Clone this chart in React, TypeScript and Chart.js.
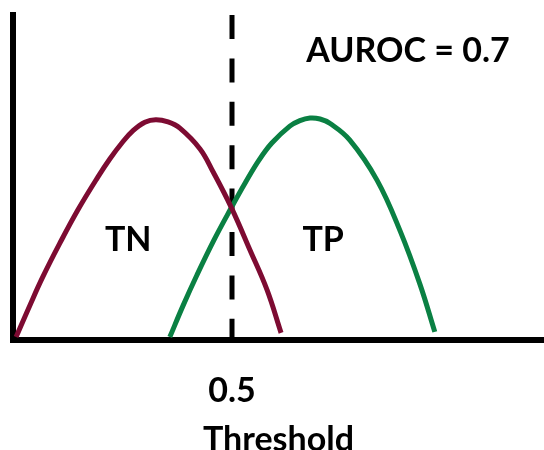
import React, { useEffect, useRef } from "react";
import { Chart, registerables } from "chart.js";

Chart.register(...registerables);

// Score axis (threshold units) and density values
const tnX = [0.007, 0.039, 0.068, 0.107, 0.148, 0.194, 0.221, 0.249, 0.274, 0.301, 0.326, 0.354, 0.381, 0.427, 0.457, 0.498, 0.541, 0.58, 0.612];
const tnY = [0.009, 0.108, 0.194, 0.298, 0.4, 0.502, 0.557, 0.607, 0.644, 0.67, 0.678, 0.671, 0.652, 0.588, 0.517, 0.409, 0.277, 0.154, 0.022];

const tpX = [0.358, 0.388, 0.42, 0.459, 0.498, 0.53, 0.562, 0.591, 0.632, 0.655, 0.678, 0.701, 0.724, 0.769, 0.831, 0.884, 0.929, 0.963];
const tpY = [0.009, 0.105, 0.2, 0.308, 0.406, 0.483, 0.554, 0.606, 0.658, 0.675, 0.683, 0.68, 0.666, 0.615, 0.492, 0.335, 0.172, 0.025];

const thresholdValue = 0.5;
const xTickValues = [0.5];
const xTitle = "Threshold";

const annotationTexts = ["TN", "TP", "AUROC = 0.7"];
const annotationX = [0.263, 0.708, 0.902];
const annotationY = [0.308, 0.308, 0.889];

const X_MAX = 1.2123;
const Y_MAX = 1;

const FONT = "Lato, 'Open Sans', sans-serif";

const textPlugin = {
  id: "annotTexts",
  afterDatasetsDraw(chart: any) {
    const { ctx, scales } = chart;
    ctx.save();
    ctx.fillStyle = "#000";
    ctx.font = `bold 34px ${FONT}`;
    ctx.textAlign = "center";
    ctx.textBaseline = "middle";
    annotationTexts.forEach((t, i) => {
      ctx.fillText(t, scales.x.getPixelForValue(annotationX[i]), scales.y.getPixelForValue(annotationY[i]));
    });
    ctx.restore();
  },
};

export default function App() {
  const ref = useRef<HTMLCanvasElement | null>(null);

  useEffect(() => {
    if (!ref.current) return;
    const toPts = (xs: number[], ys: number[]) => xs.map((x, i) => ({ x, y: ys[i] }));
    const chart = new Chart(ref.current, {
      type: "line",
      data: {
        datasets: [
          {
            label: "Negatives",
            data: toPts(tnX, tnY),
            borderColor: "#7D0B32",
            borderWidth: 5,
            pointRadius: 0,
            tension: 0.4,
            fill: false,
          },
          {
            label: "Positives",
            data: toPts(tpX, tpY),
            borderColor: "#0A8043",
            borderWidth: 5,
            pointRadius: 0,
            tension: 0.4,
            fill: false,
          },
          {
            label: "Threshold",
            data: [
              { x: thresholdValue, y: Y_MAX },
              { x: thresholdValue, y: 0 },
            ],
            borderColor: "#000",
            borderWidth: 5,
            borderDash: [24, 19.4],
            pointRadius: 0,
            fill: false,
          },
        ],
      },
      options: {
        responsive: false,
        animation: false,
        layout: { padding: { left: 13, top: 15, right: 0, bottom: 0 } },
        plugins: { legend: { display: false }, tooltip: { enabled: false } },
        scales: {
          x: {
            type: "linear",
            min: 0,
            max: X_MAX,
            grid: {
              display: true,
              drawOnChartArea: false,
              drawTicks: true,
              tickLength: 30.6,
              color: "rgba(0,0,0,0)",
            },
            border: { display: true, color: "#000", width: 6 },
            afterBuildTicks: (scale: any) => {
              scale.ticks = xTickValues.map((v) => ({ value: v }));
            },
            ticks: {
              color: "#000",
              padding: 0,
              font: { family: FONT, size: 34, weight: "bold", lineHeight: 1.2 },
              callback: (v: any) => String(v),
            },
            title: {
              display: true,
              text: xTitle,
              color: "#000",
              padding: { top: 18.2, bottom: 0 },
              font: { family: FONT, size: 34, weight: "bold", lineHeight: 0.6 },
            },
          },
          y: {
            type: "linear",
            min: 0,
            max: Y_MAX,
            grid: { display: false, drawTicks: false },
            border: { display: true, color: "#000", width: 6 },
            ticks: { display: false },
          },
        },
      },
      plugins: [textPlugin],
    });
    return () => chart.destroy();
  }, []);

  return (
    <div style={{ position: "absolute", left: 0, top: 0, width: 544, height: 450 }}>
      <canvas ref={ref} width={544} height={450} style={{ display: "block" }} />
    </div>
  );
}
